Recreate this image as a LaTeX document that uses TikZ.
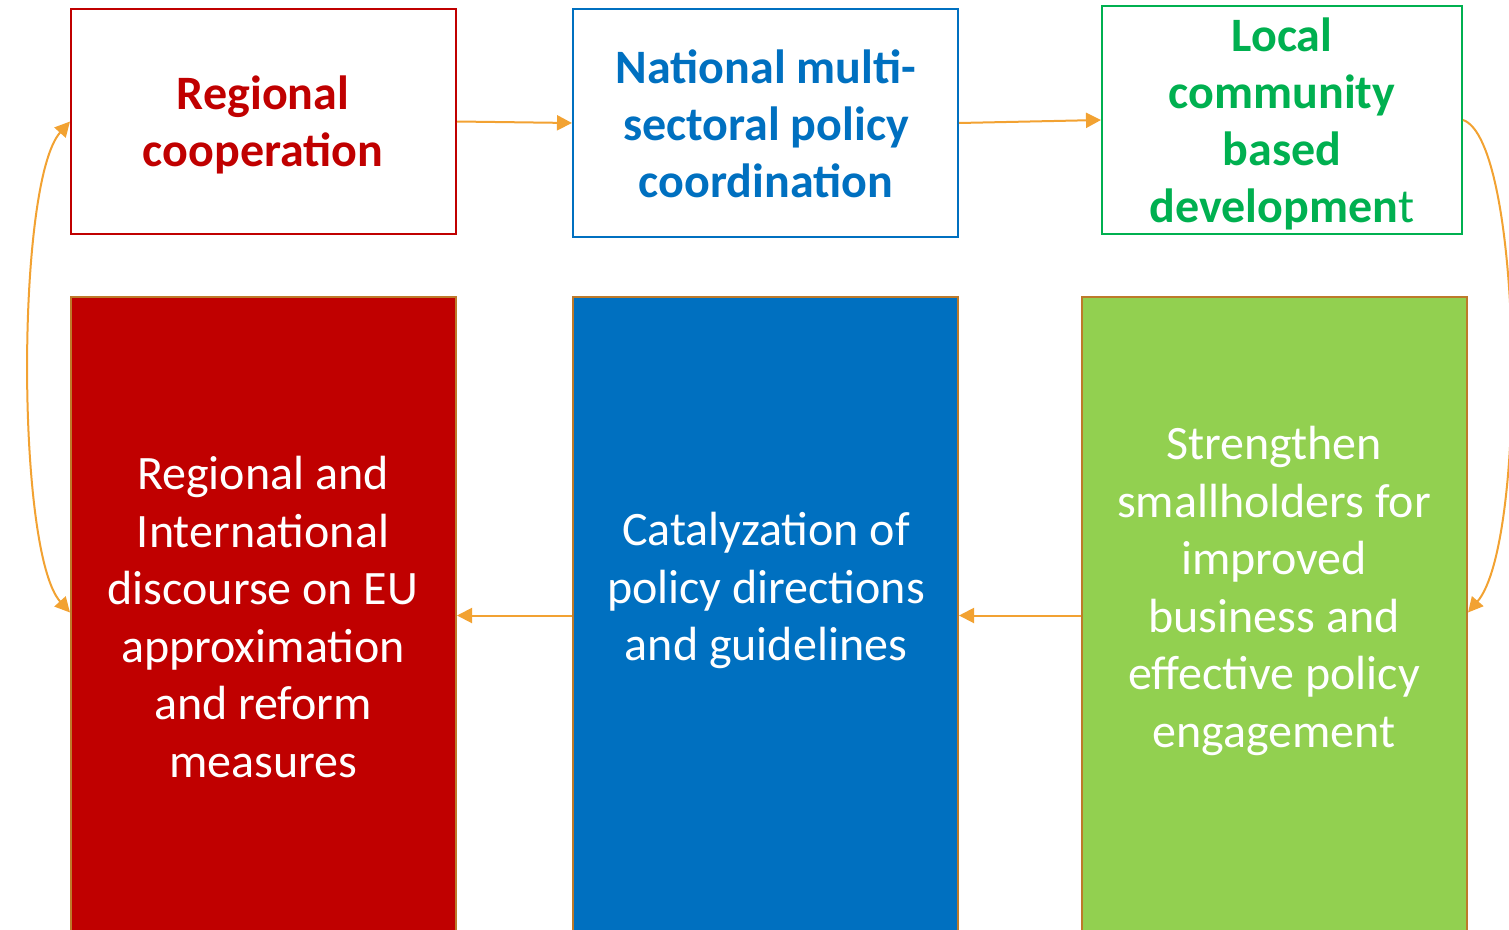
\documentclass[tikz,border=0pt]{standalone}
\usepackage{fontspec}
\setmainfont{Carlito}
\usetikzlibrary{arrows.meta}
\definecolor{cred}{HTML}{C00000}
\definecolor{cblue}{HTML}{0070C0}
\definecolor{cgreen}{HTML}{00B050}
\definecolor{clime}{HTML}{92D050}
\definecolor{cedge}{HTML}{BD7A2A}
\definecolor{carrow}{HTML}{F2A232}
\begin{document}
\begin{tikzpicture}[x=1pt,y=-1pt,
  topbox/.style={draw, line width=2pt, fill=white, inner sep=0pt},
  botbox/.style={draw=cedge, line width=2pt, inner sep=0pt, minimum width=385pt, minimum height=663pt},
  toptext/.style={font=\fontsize{48}{57}\selectfont\bfseries, align=center, inner sep=0pt},
  bottext/.style={font=\fontsize{48}{57.5}\selectfont, align=center, inner sep=0pt, text=white},
  arr/.style={draw=carrow, line width=2pt, -{Triangle[length=15pt,width=15pt]}},
  darr/.style={draw=carrow, line width=2pt, {Triangle[length=15pt,width=15pt]}-{Triangle[length=15pt,width=15pt]}}]
\useasboundingbox (0,0) rectangle (1509,929);
% top boxes
\node[topbox, draw=cred, minimum width=385pt, minimum height=225pt] (tr) at (263.5,121.5) {};
\node[topbox, draw=cblue, minimum width=385pt, minimum height=228pt] (tb) at (765.5,123) {};
\node[topbox, draw=cgreen, minimum width=360pt, minimum height=228pt] (tg) at (1282,120) {};
% bottom boxes
\node[botbox, fill=cred] (br) at (263.5,628.5) {};
\node[botbox, fill=cblue] (bb) at (765.5,628.5) {};
\node[botbox, fill=clime] (bg) at (1274.5,628.5) {};
% texts
\node[toptext, text=cred] (trt) at (263,125) {Regional\\cooperation};
\node[toptext, text=cblue] (tbt) at (766,124) {National multi-\\sectoral policy\\coordination};
\node[toptext, text=cgreen] (tgt) at (1282,124) {Local\\community\\based\\developmen{\mdseries t}};
\node[bottext] (brt) at (263,617) {Regional and\\International\\discourse on EU\\approximation\\and reform\\measures};
\node[bottext] (bbt) at (766,590.5) {Catalyzation of\\policy directions\\and guidelines};
\node[bottext] (bgt) at (1274,591) {Strengthen\\smallholders for\\improved\\business and\\effective policy\\engagement};
% connectors
\draw[arr] (tr.east) -- (tb.west);
\draw[arr] (tb.east) -- (tg.west);
\draw[arr] (tg.east) .. controls +(60,20) and +(60,-70) .. ([yshift=16pt]bg.east);
\draw[arr] ([yshift=13pt]bg.west) -- ([yshift=13pt]bb.east);
\draw[arr] ([yshift=13pt]bb.west) -- ([yshift=13pt]br.east);
\draw[darr] ([yshift=16pt]br.west) .. controls +(-54,-60) and +(-54,60) .. (tr.west);
\end{tikzpicture}
\end{document}
